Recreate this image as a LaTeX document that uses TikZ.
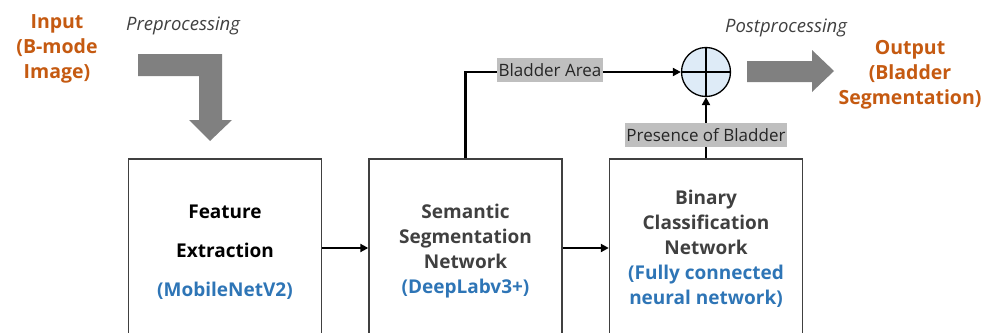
\documentclass[tikz,border=0pt]{standalone}
\usepackage{fontspec}
\setmainfont{Open Sans}
\usetikzlibrary{arrows.meta}
\definecolor{inout}{HTML}{C55A11}
\definecolor{netblue}{HTML}{2E75B6}
\definecolor{darktext}{HTML}{404040}
\definecolor{fatgray}{HTML}{808080}
\definecolor{tagfill}{HTML}{BFBFBF}
\definecolor{sumfill}{HTML}{DEEBF7}
\tikzset{
  stage/.style={draw=darktext, line width=1.4pt, minimum width=193pt, minimum height=178pt,
    inner sep=0pt},
  title/.style={align=center, font=\bfseries\fontsize{19}{25}\selectfont},
  ioText/.style={text=inout, align=center, font=\bfseries\fontsize{19.5}{25}\selectfont},
  caption/.style={font=\itshape\fontsize{18.5}{20}\selectfont, text=darktext},
  tag/.style={fill=tagfill, inner xsep=1.5pt, inner ysep=5pt, font=\fontsize{17}{20}\selectfont, text=black!85},
  flow/.style={line width=2.5pt, -{Triangle[length=8pt,width=8pt]}},
  bigarrow/.style={fill=fatgray, draw=none}
}
\begin{document}
\begin{tikzpicture}[x=1pt,y=-1pt]
\useasboundingbox (0,0) rectangle (987,332);

% processing stages (frames run past the lower edge)
\node[stage] (fe) at (225,248) {};
\node[stage] (seg) at (465.5,248) {};
\node[stage] (cls) at (706,248) {};

% stage captions
\node[title] (fetext) at (fe.center) [yshift=-4pt]
  {Feature\\[14pt]Extraction\\[14pt]\textcolor{netblue}{(MobileNetV2)}};
\node[title, text=darktext] (segtext) at (seg.center) [yshift=-3pt]
  {Semantic\\Segmentation\\Network\\\textcolor{netblue}{(DeepLabv3+)}};
\node[title, text=darktext] (clstext) at (cls.center) [yshift=-1pt]
  {Binary\\Classification\\Network\\\textcolor{netblue}{(Fully connected}\\\textcolor{netblue}{neural network)}};

% combination node
\node[circle, draw=black, line width=1.3pt, fill=sumfill, minimum size=49pt, inner sep=0pt] (sum) at (706,72) {};
\draw[line width=1.3pt] (sum.north) -- (sum.south) (sum.west) -- (sum.east);

% input / output text
\node[ioText] (in) at (57,49) {Input\\(B-mode\\Image)};
\node[ioText] (out) at (910,75) {Output\\(Bladder\\Segmentation)};
\node[caption] (pre) at (183,26) {Preprocessing};
\node[caption] (post) at (786,28) {Postprocessing};

% connectors
\draw[flow] (fe.east) -- (seg.west);
\draw[flow] (seg.east) -- (cls.west);
\draw[flow] (seg.north) |- (sum.west);
\draw[flow] (cls.north) -- (sum.south);
\node[tag] (area) at (550,70) {Bladder Area};
\node[tag] (presence) at (706,135) {Presence of Bladder};

% wide grey arrows
\draw[bigarrow] (138,54) -- (222,54) -- (222,120) -- (232,120) -- (210,141)
  -- (189,120) -- (199,120) -- (199,76) -- (138,76) -- cycle;
\draw[bigarrow] (747,61) -- (812,61) -- (812,50) -- (834,71) -- (812,92)
  -- (812,82) -- (747,82) -- cycle;
\end{tikzpicture}
\end{document}
